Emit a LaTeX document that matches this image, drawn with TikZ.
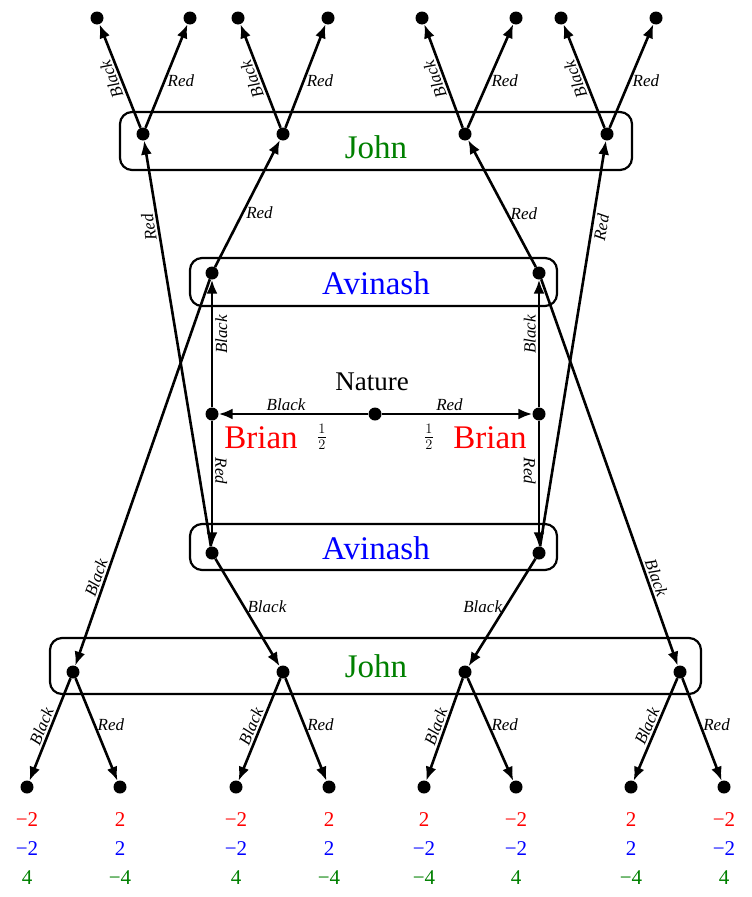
\documentclass[tikz,border=0pt]{standalone}
\usepackage{fontspec}
\setmainfont{Liberation Serif}
\usetikzlibrary{arrows.meta}
\definecolor{jg}{RGB}{0,128,0}
\begin{document}
\begin{tikzpicture}[x=1pt,y=-1pt,
 dot/.style={circle,fill=black,inner sep=0pt,minimum size=13pt},
 e/.style={-{Latex[length=14pt,width=11pt]},line width=2.6pt},
 lb/.style={font=\itshape\fontsize{17}{17}\selectfont,inner sep=2pt},
 box/.style={draw,line width=2.2pt,rounded corners=12pt},
 pl/.style={font=\fontsize{33}{33}\selectfont},
 pay/.style={font=\fontsize{21}{21}\selectfont,anchor=center}]
\useasboundingbox (0,0) rectangle (752,897);
% boxes
\draw[box] (120,112) rectangle (632,170);
\draw[box] (190,258) rectangle (557,306);
\draw[box] (190,524) rectangle (557,570);
\draw[box] (50,638) rectangle (701,694);
\node[pl,text=jg] (jt) at (376,147) {John};
\node[pl,text=blue] (at) at (376,283) {Avinash};
\node[pl,text=blue] (ab) at (376,548) {Avinash};
\node[pl,text=jg] (jb) at (376,666) {John};
\node[pl,text=red] (bl) at (261,438) {Brian};
\node[pl,text=red] (br) at (490,438) {Brian};
\node[font=\fontsize{27}{27}\selectfont] (nl) at (372,382) {Nature};
% nodes
\node[dot] (n) at (375,414) {};
\node[dot] (B1) at (212,414) {};
\node[dot] (B2) at (539,414) {};
\node[dot] (A1) at (212,273) {};
\node[dot] (A2) at (539,273) {};
\node[dot] (A3) at (212,553) {};
\node[dot] (A4) at (539,553) {};
\node[dot] (J1) at (143,134) {};
\node[dot] (J2) at (283,134) {};
\node[dot] (J3) at (465,134) {};
\node[dot] (J4) at (607,134) {};
\node[dot] (K1) at (73,672) {};
\node[dot] (K2) at (283,672) {};
\node[dot] (K3) at (465,672) {};
\node[dot] (K4) at (680,672) {};
\foreach \i/\x in {1/97,2/190,3/238,4/328,5/422,6/516,7/561,8/656}
  \node[dot] (T\i) at (\x,18) {};
\foreach \i/\x in {1/27,2/120,3/236,4/329,5/424,6/516,7/631,8/724}
  \node[dot] (L\i) at (\x,787) {};
% nature
\draw[e] (n) -- node[lb,above,pos=0.55] {Black} (B1);
\draw[e] (n) -- node[lb,above,pos=0.45] {Red} (B2);
\node[font=\fontsize{20}{20}\selectfont] (h1) at (322,437) {$\frac12$};
\node[font=\fontsize{20}{20}\selectfont] (h2) at (429,437) {$\frac12$};
% brian
\draw[e] (B1) -- node[lb,rotate=90,anchor=north,pos=0.57] {Black} (A1);
\draw[e] (B1) -- node[lb,rotate=-90,anchor=south,pos=0.4] {Red} (A3);
\draw[e] (B2) -- node[lb,rotate=90,anchor=south,pos=0.57] {Black} (A2);
\draw[e] (B2) -- node[lb,rotate=-90,anchor=north,pos=0.4] {Red} (A4);
% avinash
\draw[e] (A1) -- node[lb,right,pos=0.43] {Red} (J2);
\draw[e] (A1) -- node[lb,sloped,above,pos=0.78] {Black} (K1);
\draw[e] (A2) -- node[lb,right,pos=0.42] {Red} (J3);
\draw[e] (A2) -- node[lb,sloped,above,pos=0.78] {Black} (K4);
\draw[e] (A3) -- node[lb,rotate=99,anchor=south,pos=0.79] {Red} (J1);
\draw[e] (A3) -- node[lb,right,pos=0.45] {Black} (K2);
\draw[e] (A4) -- node[lb,sloped,below,pos=0.79] {Red} (J4);
\draw[e] (A4) -- node[lb,left,pos=0.45] {Black} (K3);
% john top
\foreach \j/\a/\b in {J1/T1/T2,J2/T3/T4,J3/T5/T6,J4/T7/T8}{
  \draw[e] (\j) -- node[lb,rotate=111,anchor=south,pos=0.5] {Black} (\a);
  \draw[e] (\j) -- node[lb,right,pos=0.45] {Red} (\b);
}
\foreach \j/\a/\b in {K1/L1/L2,K2/L3/L4,K3/L5/L6,K4/L7/L8}{
  \draw[e] (\j) -- node[lb,sloped,above,pos=0.5] {Black} (\a);
  \draw[e] (\j) -- node[lb,right,pos=0.45] {Red} (\b);
}
% payoffs
\foreach \x/\r/\g/\k in {27/−2/−2/4,120/2/2/−4,236/−2/−2/4,329/2/2/−4,424/2/−2/−4,516/−2/−2/4,631/2/2/−4,724/−2/−2/4}{
  \node[pay,text=red] at (\x,820) {\r};
  \node[pay,text=blue] at (\x,849) {\g};
  \node[pay,text=jg] at (\x,878) {\k};
}
\end{tikzpicture}
\end{document}
